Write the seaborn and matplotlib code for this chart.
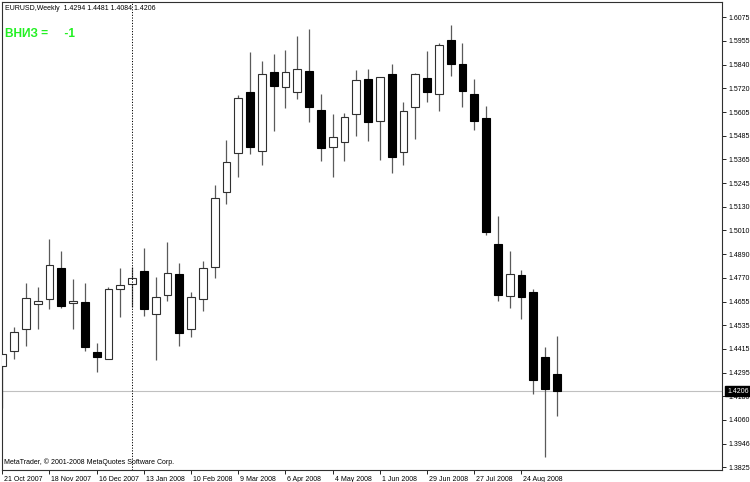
import pandas as pd
import matplotlib.pyplot as plt
import matplotlib.transforms as mtransforms
import seaborn as sns

# weekly EURUSD bars
opens = [1.4332, 1.4407, 1.4515, 1.4643, 1.4665, 1.4823, 1.4645, 1.4651, 1.4400, 1.4365,
         1.4715, 1.4742, 1.4805, 1.4590, 1.4685, 1.4793, 1.4515, 1.4668, 1.4828, 1.5202,
         1.5395, 1.5702, 1.5408, 1.5803, 1.5725, 1.5700, 1.5808, 1.5610, 1.5427, 1.5453,
         1.5593, 1.5767, 1.5555, 1.5790, 1.5400, 1.5625, 1.5773, 1.5693, 1.5962, 1.5842,
         1.5694, 1.5572, 1.4943, 1.4680, 1.4787, 1.4702, 1.4375, 1.4294]
highs = [1.4392, 1.4527, 1.4748, 1.4725, 1.4965, 1.4907, 1.4765, 1.4748, 1.4448, 1.4725,
         1.4823, 1.4825, 1.4920, 1.4775, 1.4950, 1.4845, 1.4702, 1.4857, 1.5237, 1.5462,
         1.5687, 1.5900, 1.5855, 1.5892, 1.5912, 1.5982, 1.6018, 1.5690, 1.5590, 1.5597,
         1.5812, 1.5815, 1.5777, 1.5842, 1.5652, 1.5795, 1.5907, 1.5945, 1.6037, 1.5945,
         1.5767, 1.5632, 1.5082, 1.4907, 1.4810, 1.4715, 1.4427, 1.4481]
lows = [1.4122, 1.4368, 1.4433, 1.4515, 1.4615, 1.4623, 1.4518, 1.4408, 1.4303, 1.4365,
        1.4575, 1.4628, 1.4583, 1.4362, 1.4656, 1.4432, 1.4475, 1.4605, 1.4773, 1.5140,
        1.5275, 1.5393, 1.5338, 1.5508, 1.5620, 1.5665, 1.5552, 1.5355, 1.5278, 1.5358,
        1.5482, 1.5458, 1.5360, 1.5298, 1.5338, 1.5465, 1.5652, 1.5608, 1.5780, 1.5625,
        1.5512, 1.4988, 1.4657, 1.4623, 1.4568, 1.4192, 1.3875, 1.4084]
closes = [1.4390, 1.4500, 1.4673, 1.4658, 1.4835, 1.4632, 1.4657, 1.4425, 1.4377, 1.4717,
          1.4735, 1.4772, 1.4615, 1.4675, 1.4797, 1.4498, 1.4675, 1.4823, 1.5173, 1.5350,
          1.5670, 1.5427, 1.5793, 1.5732, 1.5803, 1.5815, 1.5625, 1.5420, 1.5475, 1.5575,
          1.5760, 1.5552, 1.5775, 1.5375, 1.5607, 1.5792, 1.5703, 1.5937, 1.5843, 1.5707,
          1.5559, 1.5000, 1.4687, 1.4792, 1.4675, 1.4262, 1.4218, 1.4206]

price_labels = ['1.6075', '1.5955', '1.5840', '1.5720', '1.5605', '1.5485', '1.5365',
                '1.5245', '1.5130', '1.5010', '1.4890', '1.4770', '1.4655', '1.4535',
                '1.4415', '1.4295', '1.4180', '1.4060', '1.3946', '1.3825']
last_price = 1.4206
separator_week = 11

df = pd.DataFrame({'open': opens, 'high': highs, 'low': lows, 'close': closes})
df['date'] = pd.date_range('2007-10-21', periods=len(df), freq='7D')
df['x'] = range(len(df))
df['up'] = df['close'] >= df['open']
df['bottom'] = df[['open', 'close']].min(axis=1)
df['body'] = (df['close'] - df['open']).abs()

sns.set_theme(style='white')
plt.rcParams['font.family'] = ['Liberation Sans', 'DejaVu Sans']

fig = plt.figure(figsize=(7.5, 4.82), dpi=100)
ax = fig.add_axes([2 / 750, 12 / 482, 720 / 750, 468 / 482])
ax.set_facecolor('white')

# wicks then bodies
ax.vlines(df['x'], df['low'], df['high'], color='#5a5a5a', linewidth=0.9, zorder=2)
for up, part in df.groupby('up'):
    ax.bar(part['x'], part['body'].clip(lower=0.0002), bottom=part['bottom'], width=0.66,
           color='white' if up else 'black', edgecolor='#303030' if up else 'black',
           linewidth=0.8, zorder=3)

ax.axhline(last_price, color='#c0c0c0', linewidth=0.8, zorder=1)
ax.axvline(separator_week, color='black', linewidth=0.7, linestyle=(0, (1.2, 1.6)), zorder=4)

ax.set_xlim(-0.02, 61)
ax.set_ylim(1.38115, 1.61515)

# price scale on the right
step = (1.6075 - 1.3825) / (len(price_labels) - 1)
ax.yaxis.tick_right()
ax.set_yticks([1.6075 - i * step for i in range(len(price_labels))])
ax.set_yticklabels(price_labels)
ax.tick_params(axis='y', which='major', direction='out', length=3, width=0.6, pad=1.5,
               labelsize=5, colors='black', right=True, left=False)

# date scale
ticks = df.iloc[0:45:4]
ax.set_xticks(ticks['x'])
ax.set_xticklabels([f"{d.day} {d.strftime('%b %Y')}" for d in ticks['date']])
ax.tick_params(axis='x', which='major', direction='out', length=3, width=0.6, pad=1,
               labelsize=5, colors='black', bottom=True)
shift = mtransforms.ScaledTranslation(2 / 100, 0, fig.dpi_scale_trans)
for lab in ax.get_xticklabels():
    lab.set_horizontalalignment('left')
    lab.set_transform(lab.get_transform() + shift)

for side in ['left', 'right', 'top', 'bottom']:
    ax.spines[side].set_color('#303030')
    ax.spines[side].set_linewidth(0.8)

ax.set_xlabel('')
ax.set_ylabel('')

# current price tag
ax.text(1.0, last_price, f'{last_price:.4f}',
        transform=mtransforms.blended_transform_factory(ax.transAxes, ax.transData)
        + mtransforms.ScaledTranslation(5 / 100, 0, fig.dpi_scale_trans),
        ha='left', va='center', fontsize=5, color='white', clip_on=False, zorder=10,
        bbox=dict(boxstyle='square,pad=0.25', facecolor='black', edgecolor='black'))

ax.text(3 / 720, 1 - 6 / 468, 'EURUSD,Weekly  1.4294 1.4481 1.4084 1.4206',
        transform=ax.transAxes, ha='left', va='center', fontsize=5, color='black')
ax.text(3 / 720, 1 - 32 / 468, 'ВНИЗ =     -1', transform=ax.transAxes,
        ha='left', va='center', fontsize=8.6, fontweight='bold', color='#22f022')
ax.text(2 / 720, 8 / 468, 'MetaTrader, © 2001-2008 MetaQuotes Software Corp.',
        transform=ax.transAxes, ha='left', va='center', fontsize=5, color='black')

fig.savefig('out.png', dpi=100)
